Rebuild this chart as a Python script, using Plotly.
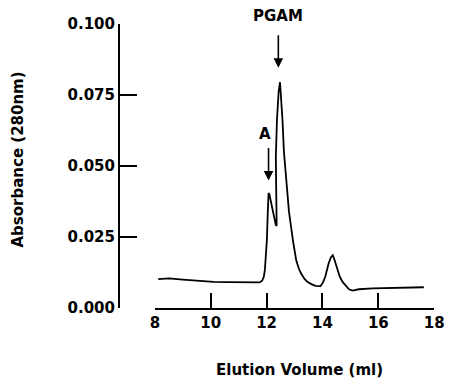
import plotly.graph_objects as go

# Elution profile (ml, absorbance at 280 nm)
elution_ml = [8.12, 8.5, 9.0, 9.5, 10.1, 10.6, 11.0, 11.5, 11.75, 11.84, 11.9, 11.94, 11.98,
              12.01, 12.04, 12.07, 12.10, 12.16, 12.22, 12.28, 12.33, 12.36, 12.34, 12.33,
              12.37, 12.43, 12.48, 12.52, 12.57, 12.62, 12.71, 12.80, 12.94, 13.06, 13.15,
              13.23, 13.35, 13.46, 13.6, 13.75, 13.93, 14.02, 14.10, 14.17, 14.22, 14.30,
              14.37, 14.43, 14.48, 14.55, 14.62, 14.72, 14.85, 14.95, 15.08, 15.3, 15.8,
              16.5, 17.0, 17.63]
absorbance = [0.0102, 0.0104, 0.0100, 0.0096, 0.0092, 0.0091, 0.0090, 0.0089, 0.0090, 0.0096,
              0.0110, 0.0135, 0.0180, 0.0240, 0.0330, 0.0405, 0.0400, 0.0370, 0.0340, 0.0310,
              0.0292, 0.0290, 0.0400, 0.0530, 0.0660, 0.0760, 0.0795, 0.0740, 0.0660, 0.0550,
              0.0430, 0.0340, 0.0240, 0.0168, 0.0140, 0.0122, 0.0103, 0.0092, 0.0084, 0.0078,
              0.0077, 0.0090, 0.0110, 0.0138, 0.0157, 0.0178, 0.0186, 0.0170, 0.0152, 0.0130,
              0.0110, 0.0092, 0.0075, 0.0066, 0.0061, 0.0066, 0.0069, 0.0070, 0.0071, 0.0073]

x_ticks = [8, 10, 12, 14, 16, 18]
y_ticks = [0.0, 0.025, 0.05, 0.075, 0.1]
y_tick_labels = ["0.000", "0.025", "0.050", "0.075", "0.100"]

peak_labels = ["PGAM", "A"]
peak_label_x = [12.42, 11.96]
peak_label_y = [0.1028, 0.0614]
arrow_x = [12.42, 12.07]
arrow_tip_y = [0.0846, 0.0449]

FONT = "DejaVu Sans"
BOLD = dict(family=FONT, size=15, color="black", weight="bold")

fig = go.Figure()
fig.add_trace(go.Scatter(x=elution_ml, y=absorbance, mode="lines",
                         line=dict(color="black", width=1.8), showlegend=False,
                         hoverinfo="skip"))

# the page body adds an 8px offset, so the figure is 8px smaller than the window
W = 331.0
H = 285.0
fig.update_layout(
    width=449, height=382,
    margin=dict(l=111, r=7, t=15, b=82),
    paper_bgcolor="white", plot_bgcolor="white",
    font=dict(family=FONT, color="black"),
    xaxis=dict(range=[8, 18], domain=[37 / W, 325 / W], anchor="y",
               tickvals=x_ticks, ticks="inside", ticklen=15, tickwidth=2,
               tickcolor="black", showline=True, linecolor="black", linewidth=2,
               showgrid=False, zeroline=False, tickfont=BOLD),
    yaxis=dict(range=[0, 0.1], anchor="free", position=0,
               tickvals=y_ticks, ticktext=y_tick_labels, ticks="inside", ticklen=17,
               tickwidth=2, tickcolor="black", showline=True, linecolor="black",
               linewidth=2, showgrid=False, zeroline=False, tickfont=BOLD),
)

annotations = []
for lab, lx, ly in zip(peak_labels, peak_label_x, peak_label_y):
    annotations.append(dict(x=lx, y=ly / 0.1, xref="x", yref="paper", text=lab,
                            showarrow=False, font=BOLD,
                            xanchor="center", yanchor="middle"))
for axx, tip in zip(arrow_x, arrow_tip_y):
    annotations.append(dict(x=axx, y=tip, xref="x", yref="y", text="", showarrow=True,
                            ax=0, ay=-34, arrowhead=2, arrowsize=1.2, arrowwidth=1.6,
                            arrowcolor="black", standoff=0))
annotations.append(dict(x=(305 - 119) / W, y=0, xref="paper", yref="paper",
                        text="Elution Volume (ml)", showarrow=False, yshift=-62,
                        xanchor="center", yanchor="middle", font=BOLD))
annotations.append(dict(x=0, y=(308 - 159) / H, xref="paper", yref="paper",
                        text="Absorbance (280nm)", showarrow=False, textangle=-90,
                        xshift=-101, xanchor="center", yanchor="middle", font=BOLD))
fig.update_layout(annotations=annotations)

fig.write_html("out.html")
